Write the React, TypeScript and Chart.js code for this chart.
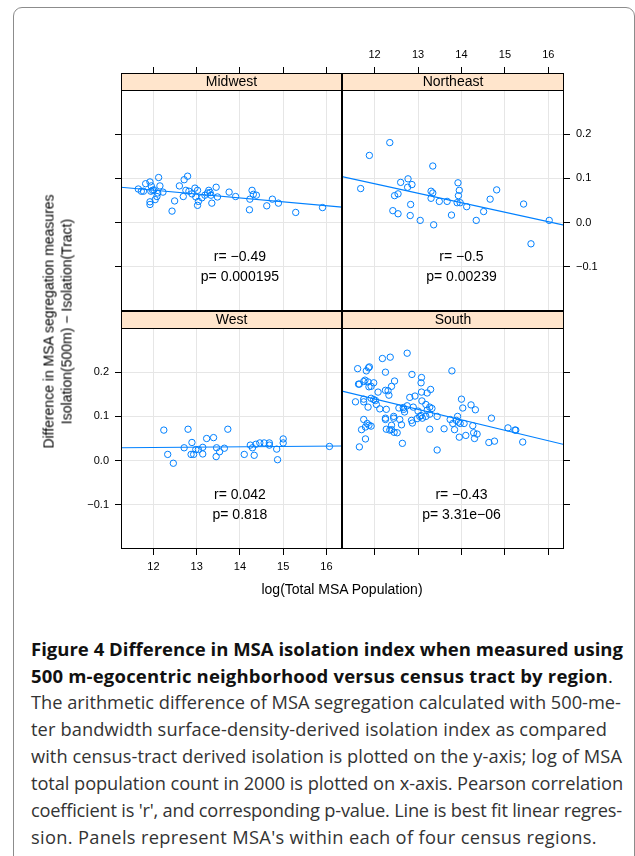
import React, { useEffect, useLayoutEffect, useRef } from "react";
import { Chart, registerables } from "chart.js";

Chart.register(...registerables);

// panel order: Midwest, Northeast (top row), West, South (bottom row)
const regionNames = ["Midwest", "Northeast", "West", "South"];

// x = log(Total MSA Population), y = Isolation(500m) - Isolation(Tract)
const midwestX = [
  11.65, 11.72, 11.77, 11.82, 11.92, 11.95, 11.98, 11.94, 12.01, 12.12, 12.15, 12.1, 12.08, 12.04,
  11.92, 11.92, 12.22, 12.43, 12.49, 12.6, 12.71, 12.79, 12.69, 12.75, 12.82, 12.89, 12.96, 13.02,
  12.98, 13.04, 13.02, 13.12, 13.19, 13.25, 13.28, 13.31, 13.33, 13.35, 13.45, 13.48, 13.75, 13.9,
  14.22, 14.23, 14.28, 14.31, 14.38, 14.62, 14.75, 14.89, 15.29, 15.91,
];
const midwestY = [
  0.076, 0.071, 0.071, 0.088, 0.092, 0.083, 0.073, 0.071, 0.074, 0.102, 0.083, 0.067, 0.059, 0.052,
  0.047, 0.041, 0.069, 0.026, 0.049, 0.083, 0.097, 0.105, 0.059, 0.073, 0.071, 0.065, 0.078, 0.073,
  0.058, 0.048, 0.039, 0.056, 0.062, 0.067, 0.073, 0.068, 0.062, 0.044, 0.08, 0.058, 0.069, 0.059,
  0.029, 0.053, 0.073, 0.064, 0.062, 0.038, 0.053, 0.044, 0.023, 0.034,
];
const northeastX = [
  11.88, 12.35, 11.68, 13.34, 12.77, 12.6, 12.86, 12.76, 12.46, 12.54, 12.83, 12.42, 12.54, 12.82,
  13.05, 13.36, 13.3, 13.34, 13.3, 13.49, 13.67, 13.77, 13.92, 13.95, 13.93, 13.9, 13.97, 14.12,
  14.34, 14.51, 14.66, 14.81, 15.43, 15.6, 16.02,
];
const northeastY = [
  0.152, 0.181, 0.077, 0.128, 0.099, 0.091, 0.086, 0.08, 0.061, 0.065, 0.041, 0.027, 0.02, 0.016,
  0.005, -0.005, 0.071, 0.067, 0.055, 0.048, 0.048, 0.017, 0.09, 0.073, 0.061, 0.045, 0.045, 0.036,
  0.005, 0.025, 0.053, 0.074, 0.042, -0.048, 0.005,
];
const westX = [
  12.24, 12.8, 12.33, 12.46, 12.71, 12.89, 12.87, 12.93, 12.98, 13.04, 13.14, 13.14, 13.23, 13.39,
  13.46, 13.45, 13.53, 13.64, 13.72, 14.1, 14.24, 14.29, 14.33, 14.37, 14.46, 14.56, 14.68, 14.68,
  14.85, 14.87, 15.0, 15.0, 16.07,
];
const westY = [
  0.069, 0.071, 0.014, -0.006, 0.029, 0.041, 0.014, 0.014, 0.025, 0.025, 0.03, 0.015, 0.05, 0.052,
  0.029, 0.009, 0.02, 0.028, 0.071, 0.014, 0.035, 0.029, 0.012, 0.037, 0.04, 0.04, 0.04, 0.035,
  0.026, 0.002, 0.049, 0.04, 0.032,
];
const southX = [
  12.75, 12.18, 12.36, 11.61, 11.88, 11.86, 11.81, 12.25, 13.78, 12.86, 11.63, 11.65, 11.75, 11.78,
  11.85, 11.92, 11.87, 11.98, 12.46, 12.39, 13.08, 13.07, 12.25, 12.31, 12.33, 12.08, 13.08, 13.21,
  13.29, 12.93, 11.56, 11.75, 11.75, 11.85, 11.92, 11.98, 12.02, 12.04, 12.12, 12.27, 12.56, 12.66,
  12.67, 12.69, 12.75, 12.81, 12.89, 13.0, 13.09, 13.18, 13.27, 13.32, 13.21, 14.0, 14.22, 14.32,
  14.03, 11.75, 11.83, 11.87, 11.92, 11.79, 11.7, 12.25, 12.25, 12.44, 12.44, 12.58, 12.62, 12.39,
  12.27, 12.35, 12.39, 12.45, 12.52, 12.85, 12.87, 12.98, 13.04, 13.1, 13.07, 13.18, 13.27, 13.44,
  13.27, 13.6, 13.74, 13.8, 13.91, 13.88, 13.93, 13.97, 14.06, 13.84, 13.95, 14.1, 14.26, 14.28,
  14.36, 14.3, 14.69, 14.63, 14.76, 15.07, 15.23, 15.25, 15.41, 11.65, 11.79, 12.64, 13.44,
];
const southY = [
  0.243, 0.231, 0.234, 0.208, 0.212, 0.21, 0.203, 0.2, 0.203, 0.195, 0.173, 0.173, 0.179, 0.182,
  0.178, 0.168, 0.167, 0.176, 0.18, 0.168, 0.188, 0.176, 0.159, 0.158, 0.148, 0.155, 0.155, 0.153,
  0.161, 0.146, 0.133, 0.139, 0.133, 0.121, 0.141, 0.138, 0.136, 0.127, 0.117, 0.116, 0.119, 0.12,
  0.116, 0.11, 0.124, 0.143, 0.121, 0.112, 0.135, 0.127, 0.121, 0.118, 0.114, 0.139, 0.126, 0.115,
  0.119, 0.093, 0.084, 0.08, 0.078, 0.076, 0.07, 0.096, 0.093, 0.1, 0.096, 0.093, 0.081, 0.08,
  0.071, 0.069, 0.07, 0.064, 0.063, 0.091, 0.085, 0.095, 0.1, 0.096, 0.102, 0.1, 0.105, 0.1,
  0.071, 0.072, 0.093, 0.084, 0.1, 0.091, 0.087, 0.084, 0.084, 0.07, 0.053, 0.057, 0.079, 0.063,
  0.06, 0.05, 0.096, 0.041, 0.044, 0.074, 0.069, 0.069, 0.042, 0.031, 0.049, 0.039, 0.024,
];

const seriesX = [midwestX, northeastX, westX, southX];
const seriesY = [midwestY, northeastY, westY, southY];

// best fit line of each panel, and the printed statistics
const fitIntercept = [0.179, 0.346, 0.0203, 0.4225];
const fitSlope = [-0.0088, -0.0215, 0.00078, -0.0236];
const rValues = ["\u22120.49", "\u22120.5", "0.042", "\u22120.43"];
const pValues = ["0.000195", "0.00239", "0.818", "3.31e\u221206"];

const xTicks = [12, 13, 14, 15, 16];
const yTicks = [-0.1, 0, 0.1, 0.2];

// layout (page pixels)
const CANVAS_W = 635;
const CANVAS_H = 620;
const COL_X = [121, 342, 564];
const ROW_Y = [73, 311, 549];
const STRIP = 17;
const AXIS = 40;
const X_MIN = 11.25;
const X_MAX = 16.36;
const Y_MIN = -0.2;
const Y_PANEL_MAX = 0.3;
const Y_MAX = Y_PANEL_MAX + ((Y_PANEL_MAX - Y_MIN) * STRIP) / (ROW_Y[1] - ROW_Y[0] - STRIP);

const BLUE = "#0080ff";
const GRID = "#e6e6e6";
const STRIP_BG = "#ffe5cc";
const FONT = '"Liberation Sans", Arial, sans-serif';

const fmtY = (v: number) => (v < 0 ? "\u2212" : "") + Math.abs(v).toFixed(1);

const panelDecor = {
  id: "panelDecor",
  beforeDatasetsDraw(chart: any, _args: any, opts: any) {
    const { ctx, chartArea: a } = chart;
    ctx.save();
    ctx.fillStyle = STRIP_BG;
    ctx.fillRect(a.left, a.top, a.right - a.left, STRIP);
    ctx.fillStyle = "#000";
    ctx.font = `14px ${FONT}`;
    ctx.textAlign = "center";
    ctx.textBaseline = "middle";
    ctx.fillText(opts.title, (a.left + a.right) / 2, a.top + STRIP / 2 + 1);
    ctx.restore();
  },
  afterDraw(chart: any, _args: any, opts: any) {
    const { ctx, chartArea: a, scales } = chart;
    ctx.save();
    ctx.strokeStyle = "#000";
    ctx.lineWidth = 1;
    ctx.strokeRect(a.left + 0.5, a.top + 0.5, a.right - a.left - 1, a.bottom - a.top - 1);
    ctx.beginPath();
    ctx.moveTo(a.left, a.top + STRIP + 0.5);
    ctx.lineTo(a.right, a.top + STRIP + 0.5);
    ctx.stroke();

    const cx = scales.x.getPixelForValue(14);
    const cy = scales.y.getPixelForValue(-0.1);
    ctx.fillStyle = "#000";
    ctx.font = `14px ${FONT}`;
    ctx.textAlign = "center";
    ctx.textBaseline = "middle";
    ctx.fillText(`r= ${opts.r}`, cx, cy - 10);
    ctx.fillText(`p= ${opts.p}`, cx, cy + 10);
    ctx.restore();
  },
};

const Panel: React.FC<{ idx: number }> = ({ idx }) => {
  const chartRef = useRef<HTMLCanvasElement>(null);

  useEffect(() => {
    if (!chartRef.current) return;
    const col = idx % 2;
    const row = Math.floor(idx / 2);
    const labelled = idx === 1 || idx === 2;
    const xPos = row === 0 ? "top" : "bottom";
    const yPos = col === 0 ? "left" : "right";

    const left = COL_X[col];
    const right = COL_X[col + 1];
    const top = ROW_Y[row];
    const bottom = ROW_Y[row + 1];

    const xs = seriesX[idx];
    const ys = seriesY[idx];
    const a = fitIntercept[idx];
    const b = fitSlope[idx];

    const chart = new Chart(chartRef.current, {
      type: "scatter",
      data: {
        datasets: [
          {
            type: "line",
            data: [
              { x: X_MIN, y: a + b * X_MIN },
              { x: X_MAX, y: a + b * X_MAX },
            ],
            borderColor: BLUE,
            borderWidth: 1.2,
            pointRadius: 0,
            fill: false,
          },
          {
            data: xs.map((x, i) => ({ x, y: ys[i] })),
            pointRadius: 3.2,
            pointBorderWidth: 1,
            pointBorderColor: BLUE,
            pointBackgroundColor: "rgba(0,0,0,0)",
            borderColor: BLUE,
            backgroundColor: "rgba(0,0,0,0)",
          },
        ],
      },
      options: {
        responsive: false,
        animation: false,
        events: [],
        layout: {
          padding: {
            left: left - (yPos === "left" ? AXIS : 0),
            right: CANVAS_W - right - (yPos === "right" ? AXIS : 0),
            top: top - (xPos === "top" ? AXIS : 0),
            bottom: CANVAS_H - bottom - (xPos === "bottom" ? AXIS : 0),
          },
        },
        scales: {
          x: {
            type: "linear",
            position: xPos,
            min: X_MIN,
            max: X_MAX,
            afterBuildTicks: (s: any) => {
              s.ticks = xTicks.map((v) => ({ value: v }));
            },
            afterFit: (s: any) => {
              s.height = AXIS;
            },
            grid: { color: GRID, tickColor: "#000", tickLength: 6, lineWidth: 1 },
            border: { display: false },
            ticks: {
              display: labelled,
              padding: 5,
              color: "#000",
              maxRotation: 0,
              autoSkip: false,
              font: { family: FONT, size: 11 },
              callback: (v: any) => String(v),
            },
          },
          y: {
            type: "linear",
            position: yPos,
            min: Y_MIN,
            max: Y_MAX,
            afterBuildTicks: (s: any) => {
              s.ticks = yTicks.map((v) => ({ value: v }));
            },
            afterFit: (s: any) => {
              s.width = AXIS;
            },
            grid: { color: GRID, tickColor: "#000", tickLength: 6, lineWidth: 1 },
            border: { display: false },
            ticks: {
              display: labelled,
              padding: 6,
              color: "#000",
              autoSkip: false,
              font: { family: FONT, size: 11 },
              callback: (v: any) => fmtY(Number(v)),
            },
          },
        },
        plugins: {
          legend: { display: false },
          tooltip: { enabled: false },
          panelDecor: { title: regionNames[idx], r: rValues[idx], p: pValues[idx] },
        } as any,
      },
      plugins: [panelDecor],
    } as any);

    return () => chart.destroy();
  }, [idx]);

  return (
    <canvas
      ref={chartRef}
      width={CANVAS_W}
      height={CANVAS_H}
      style={{ position: "absolute", left: 0, top: 0 }}
    ></canvas>
  );
};

const captionBold = [
  "Figure 4 Difference in MSA isolation index when measured using",
  "500 m-egocentric neighborhood versus census tract by region.",
];
const captionBody = [
  "The arithmetic difference of MSA segregation calculated with 500-me-",
  "ter bandwidth surface-density-derived isolation index as compared",
  "with census-tract derived isolation is plotted on the y-axis; log of MSA",
  "total population count in 2000 is plotted on x-axis. Pearson correlation",
  "coefficient is 'r', and corresponding p-value. Line is best fit linear regres-",
  "sion. Panels represent MSA's within each of four census regions.",
];
// width of each caption line as set in the figure
const boldWidths = [592, 582];
const bodyWidths = [590, 576, 591, 592, 591, 566];

const App: React.FC = () => {
  const boldRef = useRef<HTMLDivElement>(null);
  const bodyRef = useRef<HTMLDivElement>(null);

  // fit the caption lines to the widths they have in the figure
  useLayoutEffect(() => {
    const fit = (box: HTMLDivElement | null, widths: number[]) => {
      if (!box) return;
      const lines = Array.from(box.children) as HTMLElement[];
      const w0 = lines[0].getBoundingClientRect().width;
      const fs = parseFloat(getComputedStyle(box).fontSize);
      if (w0 > 0) box.style.fontSize = (fs * widths[0]) / w0 + "px";
      lines.forEach((el, i) => {
        const w = el.getBoundingClientRect().width;
        const n = (el.textContent || "").length;
        if (n > 0) el.style.letterSpacing = (widths[i] - w) / n + "px";
      });
    };
    fit(boldRef.current, boldWidths);
    fit(bodyRef.current, bodyWidths);
  }, []);

  const lineStyle: React.CSSProperties = { whiteSpace: "nowrap", width: "max-content" };

  return (
    <div
      style={{
        position: "absolute",
        left: 0,
        top: 0,
        width: 635,
        height: 856,
        overflow: "hidden",
        background: "#fff",
      }}
    >
      <div
        style={{
          position: "absolute",
          left: 13,
          top: 7,
          width: 620,
          height: 870,
          border: "1px solid #8c8c8c",
          borderRadius: 9,
        }}
      />
      {regionNames.map((_, i) => (
        <Panel key={i} idx={i} />
      ))}
      <div
        style={{
          position: "absolute",
          left: 58 - 160,
          top: 321 - 17.5,
          width: 320,
          height: 35,
          lineHeight: "17.5px",
          textAlign: "center",
          transform: "rotate(-90deg)",
          fontFamily: FONT,
          fontSize: 14,
          color: "#000",
          whiteSpace: "nowrap",
        }}
      >
        <div>Difference in MSA segregation measures</div>
        <div>Isolation(500m) {"\u2212"} Isolation(Tract)</div>
      </div>
      <div
        style={{
          position: "absolute",
          left: 142,
          top: 580,
          width: 400,
          lineHeight: "18px",
          textAlign: "center",
          fontFamily: FONT,
          fontSize: 14,
          color: "#000",
        }}
      >
        log(Total MSA Population)
      </div>
      <div
        ref={boldRef}
        style={{
          position: "absolute",
          left: 31,
          top: 634.5,
          fontFamily: '"Open Sans", sans-serif',
          fontWeight: 700,
          fontSize: 17,
          lineHeight: "27px",
          color: "#111",
        }}
      >
        <div style={lineStyle}>{captionBold[0]}</div>
        <div style={lineStyle}>
          {captionBold[1].slice(0, -1)}
          <span style={{ fontWeight: 400 }}>.</span>
        </div>
      </div>
      <div
        ref={bodyRef}
        style={{
          position: "absolute",
          left: 31,
          top: 688.5,
          fontFamily: '"Open Sans", sans-serif',
          fontSize: 17,
          lineHeight: "27px",
          color: "#333",
        }}
      >
        {captionBody.map((t, i) => (
          <div key={i} style={lineStyle}>
            {t}
          </div>
        ))}
      </div>
    </div>
  );
};

export default App;
